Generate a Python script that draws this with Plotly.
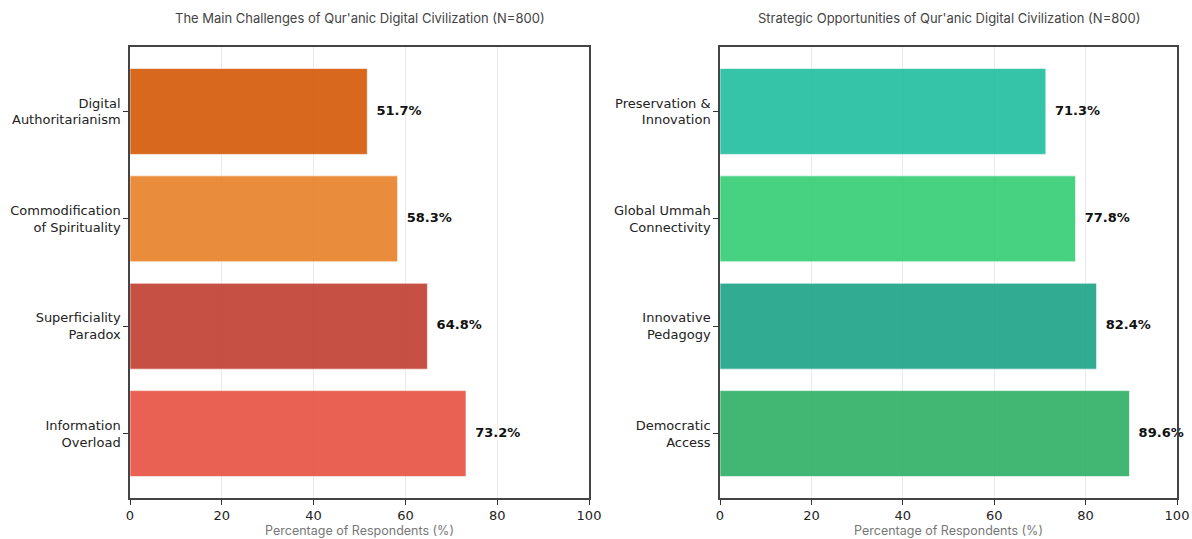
import plotly.graph_objects as go

challenge_labels = ["Information<br>Overload", "Superficiality<br>Paradox",
                    "Commodification<br>of Spirituality", "Digital<br>Authoritarianism"]
challenge_values = [73.2, 64.8, 58.3, 51.7]
challenge_colors = ["#e74c3c", "#c0392b", "#e67e22", "#d35400"]

opp_labels = ["Democratic<br>Access", "Innovative<br>Pedagogy",
              "Global Ummah<br>Connectivity", "Preservation &<br>Innovation"]
opp_values = [89.6, 82.4, 77.8, 71.3]
opp_colors = ["#27ae60", "#16a085", "#2ecc71", "#1abc9c"]

x_ticks = [0, 20, 40, 60, 80, 100]

title_left = "The Main Challenges of Qur'anic Digital Civilization (N=800)"
title_right = "Strategic Opportunities of Qur'anic Digital Civilization (N=800)"
x_title = "Percentage of Respondents (%)"

fig = go.Figure()

def add_panel(labels, values, colors, xa, ya):
    fig.add_trace(go.Bar(
        x=values, y=labels, orientation="h",
        marker=dict(color=colors, opacity=0.88, line=dict(color="rgba(255,255,255,0.6)", width=1)),
        width=0.8, xaxis=xa, yaxis=ya, showlegend=False, hoverinfo="x+y",
    ))
    fig.add_trace(go.Scatter(
        x=[v + 2 for v in values], y=labels, mode="text",
        text=[f"<b>{v:.1f}%</b>" for v in values], textposition="middle right",
        textfont=dict(family="DejaVu Sans", size=13, color="#111111"),
        xaxis=xa, yaxis=ya, showlegend=False, hoverinfo="skip", cliponaxis=False,
    ))

add_panel(challenge_labels, challenge_values, challenge_colors, "x", "y")
add_panel(opp_labels, opp_values, opp_colors, "x2", "y2")

xcommon = dict(range=[0, 100], tickvals=x_ticks, ticks="outside", ticklen=5, tickcolor="#333",
               showline=True, linecolor="#444", linewidth=1.5, mirror=True,
               showgrid=True, gridcolor="#ebebeb", gridwidth=1, zeroline=False, automargin=False,
               tickfont=dict(family="DejaVu Sans", size=13, color="#222"),
               title=dict(text=x_title, font=dict(family="Inter", size=12.5, color="#777"), standoff=4))
ycommon = dict(range=[-0.6, 3.6], ticks="outside", ticklen=5, tickcolor="#333",
               showline=True, linecolor="#444", linewidth=1.5, mirror=True,
               showgrid=False, zeroline=False, automargin=False,
               tickfont=dict(family="DejaVu Sans", size=13, color="#222"))

fig.update_layout(
    width=1192, height=539, margin=dict(l=0, r=0, t=0, b=0),
    plot_bgcolor="white", paper_bgcolor="white",
    xaxis=dict(domain=[130/1192, 589/1192], anchor="y", **xcommon),
    yaxis=dict(domain=[1-498/539, 1-47/539], anchor="x",
               categoryorder="array", categoryarray=challenge_labels, **ycommon),
    xaxis2=dict(domain=[720/1192, 1177/1192], anchor="y2", **xcommon),
    yaxis2=dict(domain=[1-498/539, 1-47/539], anchor="x2",
                categoryorder="array", categoryarray=opp_labels, **ycommon),
    annotations=[
        dict(text=title_left, x=359.5/1192, y=1-18/539, xref="paper", yref="paper",
             showarrow=False, xanchor="center", yanchor="middle",
             font=dict(family="Inter", size=13, color="#444")),
        dict(text=title_right, x=948.5/1192, y=1-18/539, xref="paper", yref="paper",
             showarrow=False, xanchor="center", yanchor="middle",
             font=dict(family="Inter", size=13, color="#444")),
    ],
)

fig.write_html("out.html")
